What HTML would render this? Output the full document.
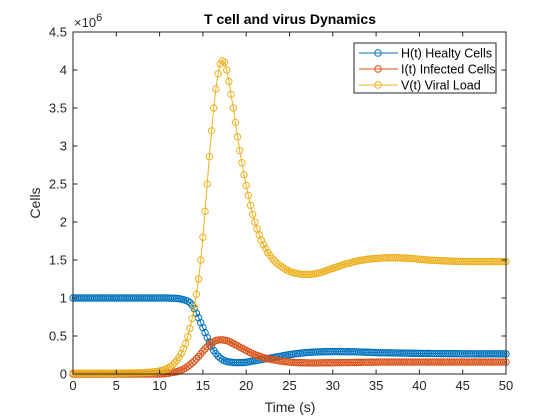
<!DOCTYPE html>
<html><head><meta charset="utf-8"><style>
body{margin:0;background:#fff;}
svg{display:block;font-family:"Liberation Sans",Arial,sans-serif;}
</style></head><body>
<svg id="c" width="560" height="420" viewBox="0 0 560 420">
<rect width="560" height="420" fill="#fff"/>
<g id="marks"></g>
<g id="axes"></g>
<text x="290" y="24" text-anchor="middle" font-size="14" font-weight="bold" fill="#000">T cell and virus Dynamics</text>
<text x="290" y="412" text-anchor="middle" font-size="14" fill="#262626">Time (s)</text>
<text x="0" y="0" transform="translate(40,203) rotate(-90)" text-anchor="middle" font-size="14" fill="#262626">Cells</text>
<text x="74" y="27" font-size="13" fill="#262626">×10<tspan dy="-6" font-size="11">6</tspan></text>
</svg>
<script>
const timeStep=0.25;
const virusV=[0.01,0.01,0.01,0.01,0.01,0.01,0.01,0.01,0.01,0.01,0.01,0.01,0.01,0.01,0.01,0.01,0.01,0.01,0.01,0.01,
0.011,0.011,0.012,0.012,0.012,0.013,0.013,0.014,0.014,0.015,0.015,0.016,0.017,0.018,0.02,0.022,0.024,0.027,0.03,0.035,
0.04,0.047,0.055,0.066,0.08,0.098,0.12,0.147,0.18,0.22,0.27,0.33,0.4,0.49,0.6,0.73,0.88,1.05,1.25,1.5,
1.8,2.14,2.5,2.86,3.2,3.5,3.75,3.95,4.08,4.12,4.1,4.0,3.85,3.68,3.5,3.31,3.12,2.94,2.78,2.62,
2.48,2.35,2.22,2.1,2.0,1.91,1.83,1.76,1.7,1.65,1.6,1.56,1.52,1.49,1.46,1.44,1.42,1.4,1.38,1.365,
1.35,1.34,1.33,1.325,1.32,1.315,1.31,1.31,1.31,1.31,1.31,1.315,1.32,1.325,1.33,1.34,1.35,1.36,1.37,1.38,
1.39,1.4,1.41,1.42,1.43,1.44,1.45,1.455,1.46,1.47,1.48,1.485,1.49,1.495,1.5,1.505,1.51,1.512,1.515,1.518,
1.52,1.522,1.525,1.527,1.528,1.529,1.53,1.53,1.53,1.53,1.53,1.528,1.527,1.525,1.524,1.522,1.52,1.517,1.515,1.512,
1.51,1.507,1.505,1.502,1.5,1.498,1.497,1.495,1.494,1.492,1.49,1.489,1.488,1.487,1.486,1.485,1.484,1.483,1.482,1.481,
1.481,1.48,1.48,1.48,1.48,1.48,1.48,1.48,1.48,1.48,1.48,1.48,1.48,1.48,1.48,1.48,1.48,1.48,1.48,1.48,1.48];
const healthyH=[1,1,1,1,1,1,1,1,1,1,1,1,1,1,1,1,1,1,1,1,1,1,1,1,1,1,1,1,1,1,1,1,1,1,1,1,1,1,1,1,1,1,1,1,
0.999,0.998,0.997,0.996,0.994,0.99,0.985,0.978,0.97,0.958,0.94,0.905,0.86,0.8,0.74,0.675,
0.61,0.545,0.48,0.42,0.36,0.31,0.27,0.235,0.21,0.19,0.175,0.165,0.16,0.155,0.152,0.151,0.15,0.15,0.15,0.152,
0.155,0.16,0.165,0.17,0.175,0.18,0.185,0.19,0.195,0.2,0.205,0.21,0.215,0.22,0.225,0.23,0.235,0.24,0.245,0.25,
0.255,0.259,0.263,0.267,0.27,0.273,0.277,0.28,0.282,0.284,0.286,0.288,0.289,0.29,0.291,0.292,0.293,0.294,0.294,0.295,
0.295,0.295,0.295,0.295,0.295,0.294,0.294,0.293,0.293,0.292,0.292,0.291,0.29,0.289,0.288,0.287,0.286,0.285,0.284,0.283,
0.282,0.281,0.28,0.28,0.279,0.279,0.278,0.278,0.277,0.277,0.276,0.276,0.275,0.275,0.274,0.274,0.273,0.273,0.272,0.272,0.271,
0.271,0.27,0.27,0.27,0.27,0.269,0.269,0.269,0.269,0.268,0.268,0.268,0.268,0.267,0.267,0.267,0.267,0.267,0.266,0.266,
0.266,0.266,0.266,0.266,0.266,0.265,0.265,0.265,0.265,0.265,0.265,0.265,0.265,0.265,0.265,0.265,0.265,0.265,0.265,0.265];
const infectedI=[0,0,0,0,0,0,0,0,0,0,0,0,0,0,0,0,0,0,0,0,0,0,0,0,0,0,0,0,0,0,0,0,0,0,0,0,0,0,0,0,0,0,
0.005,0.007,0.01,0.015,0.02,0.025,0.03,0.04,0.05,0.065,0.08,0.1,0.12,0.145,0.17,0.2,0.23,0.265,
0.3,0.33,0.36,0.385,0.41,0.425,0.44,0.447,0.45,0.449,0.445,0.438,0.43,0.415,0.4,0.385,0.37,0.355,0.34,0.325,
0.31,0.295,0.28,0.267,0.255,0.245,0.235,0.225,0.215,0.207,0.2,0.195,0.19,0.185,0.18,0.175,0.17,0.166,0.163,0.16,
0.157,0.155,0.153,0.151,0.15,0.149,0.148,0.147,0.147,0.146,0.146,0.146,0.146,
0.146,0.147,0.147,0.147,0.148,0.148,0.148,0.149,0.149,0.149,0.15,0.15,0.151,0.151,0.151,0.152,0.152,0.152,0.153,0.153,0.153,0.154,0.154,0.154,0.155,0.155,0.155,0.156,
0.157,0.157,0.157,0.157,0.157,0.157,0.157,0.157,0.157,0.157,0.157,0.157,0.157,0.157,0.157,0.157,0.157,0.157,0.157,0.157,
0.157,0.157,0.157,0.157,0.157,0.157,0.157,0.157,0.157,0.157,0.157,0.157,0.157,0.157,0.157,0.157,0.157,0.157,0.157,0.157,
0.157,0.157,0.157,0.157,0.157,0.157,0.157,0.157,0.157,0.157,0.157,0.157,0.157,0.157,0.157,0.157,0.157,0.157,0.157,0.157];
const xTicks=[0,5,10,15,20,25,30,35,40,45,50];
const yTicks=[0,0.5,1,1.5,2,2.5,3,3.5,4,4.5];
const yTickLabels=["0","0.5","1","1.5","2","2.5","3","3.5","4","4.5"];
const seriesNames=["H(t) Healty Cells","I(t) Infected Cells","V(t) Viral Load"];
const seriesColors=["#0072BD","#D95319","#EDB120"];

const L=73,R=506,T=32,B=374;
const xs=t=>L+(t/50)*(R-L);
const ys=v=>B-(v/4.5)*(B-T);
const NS="http://www.w3.org/2000/svg";
function mk(tag,attrs,parent){const e=document.createElementNS(NS,tag);for(const k in attrs)e.setAttribute(k,attrs[k]);parent.appendChild(e);return e;}
const marks=document.getElementById('marks'),axes=document.getElementById('axes');
const allSeries=[healthyH,infectedI,virusV];
const keys=["healthy","infected","virus"];
allSeries.forEach((s,si)=>{
  const g=mk('g',{fill:'none',stroke:seriesColors[si],'stroke-width':'1'},marks);
  
  
  let d='';
  s.forEach((v,i)=>{d+=(i?'L':'M')+xs(i*timeStep).toFixed(2)+' '+ys(v).toFixed(2);});
  const p=mk('path',{d:d},g);
  
  
  s.forEach((v,i)=>{
    const c=mk('circle',{cx:xs(i*timeStep).toFixed(2),cy:ys(v).toFixed(2),r:3.2},g);
    
    
  });
});
const box=mk('rect',{x:L,y:T,width:R-L,height:B-T,fill:'none',stroke:'#262626','stroke-width':1},axes);


xTicks.forEach(t=>{
  const x=xs(t);
  mk('line',{x1:x,x2:x,y1:B,y2:B-4.5,stroke:'#262626'},axes);
  mk('line',{x1:x,x2:x,y1:T,y2:T+4.5,stroke:'#262626'},axes);
  const tx=mk('text',{x:x,y:B+16,'text-anchor':'middle','font-size':'13',fill:'#262626'},axes);
  tx.textContent=t;
  
  
});
yTicks.forEach((v,i)=>{
  const y=ys(v);
  mk('line',{x1:L,x2:L+4.5,y1:y,y2:y,stroke:'#262626'},axes);
  mk('line',{x1:R,x2:R-4.5,y1:y,y2:y,stroke:'#262626'},axes);
  const tx=mk('text',{x:L-6,y:y+4.5,'text-anchor':'end','font-size':'13',fill:'#262626'},axes);
  tx.textContent=yTickLabels[i];
  
  
});
const lg=mk('g',{},axes);


mk('rect',{x:354,y:43,width:142,height:50,fill:'#fff',stroke:'#262626','stroke-width':1},lg);
seriesNames.forEach((n,i)=>{
  const y=53+i*16;
  const e=mk('g',{},lg);
  
  
  mk('line',{x1:359,x2:398,y1:y,y2:y,stroke:seriesColors[i]},e);
  mk('circle',{cx:378,cy:y,r:3.3,fill:'none',stroke:seriesColors[i]},e);
  const t=mk('text',{x:401,y:y+4.5,'font-size':'12.5',fill:'#000'},e);
  t.textContent=n;
});
</script>
</body></html>
